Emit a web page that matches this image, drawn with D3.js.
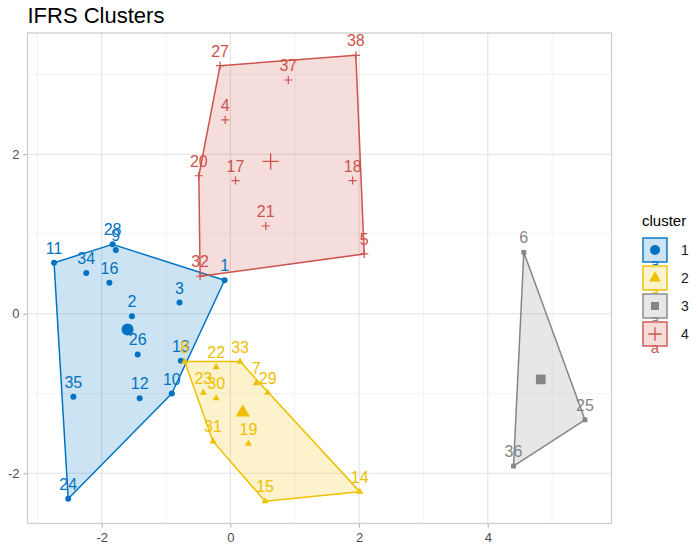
<!DOCTYPE html>
<html>
<head>
<meta charset="utf-8">
<script src="https://cdn.jsdelivr.net/npm/d3@7"></script>
<style>
  html, body { margin: 0; padding: 0; background: #fff; }
  svg { display: block; font-family: "Liberation Sans", Arial, Helvetica, sans-serif; }
</style>
</head>
<body>
<svg id="chart" width="698" height="548"></svg>
<script>
// Observation ids with their coordinates on the first two dimensions
const pointIds = [1,2,3,4,5,6,7,8,9,10,11,12,13,14,15,16,17,18,19,20,21,22,23,24,25,26,27,28,29,30,31,32,33,34,35,36,37,38];
const dim1 = [-0.09,-1.53,-0.79,-0.08,2.08,4.56,0.40,-0.71,-1.78,-0.91,-2.74,-1.41,-0.77,2.01,0.54,-1.88,0.08,1.90,0.28,-0.49,0.55,-0.22,-0.42,-2.52,5.51,-1.44,-0.16,-1.83,0.58,-0.22,-0.27,-0.47,0.15,-2.24,-2.44,4.40,0.90,1.95];
const dim2 = [0.42,-0.03,0.14,2.43,0.75,0.77,-0.87,-0.60,0.80,-1.00,0.64,-1.06,-0.59,-2.23,-2.35,0.39,1.67,1.67,-1.63,1.73,1.10,-0.67,-0.99,-2.32,-1.33,-0.51,3.11,0.87,-0.99,-1.06,-1.60,0.47,-0.60,0.51,-1.04,-1.91,2.93,3.24];
const clusterOf = [1,1,1,4,4,3,2,2,1,1,1,1,1,2,2,1,4,4,2,4,4,2,2,1,3,1,4,1,2,2,2,4,2,1,1,3,4,4];

const clusterNames = ["1","2","3","4"];
const clusterColors = ["#0073C2","#EFC000","#868686","#CD534C"];
const clusterShapes = ["circle","triangle","square","plus"];

const xTicks = [-2,0,2,4];
const yTicks = [-2,0,2];
const xMinor = [-3,-1,1,3,5];
const yMinor = [-1,1,3];

const titleText = "IFRS Clusters";
const legendTitle = "cluster";

const points = pointIds.map((id, i) => ({ id, x: dim1[i], y: dim2[i], c: clusterOf[i] }));

const svg = d3.select("#chart");
const panel = { left: 27.5, right: 611.5, top: 33, bottom: 523.5 };

// Scales with 5% padding around the data range
const xExt = d3.extent(dim1), yExt = d3.extent(dim2);
const xPad = (xExt[1] - xExt[0]) * 0.05, yPad = (yExt[1] - yExt[0]) * 0.05;
const x = d3.scaleLinear().domain([xExt[0] - xPad, xExt[1] + xPad]).range([panel.left, panel.right]);
const y = d3.scaleLinear().domain([yExt[0] - yPad, yExt[1] + yPad]).range([panel.bottom, panel.top]);

// Title
svg.append("text").attr("x", panel.left).attr("y", 23)
  .attr("font-size", 22).attr("fill", "#000").text(titleText);

// Panel background and grid
const g = svg.append("g");
g.append("rect").attr("x", panel.left).attr("y", panel.top)
  .attr("width", panel.right - panel.left).attr("height", panel.bottom - panel.top)
  .attr("fill", "#fff");

g.selectAll(".xminor").data(xMinor).join("line")
  .attr("x1", d => x(d)).attr("x2", d => x(d)).attr("y1", panel.top).attr("y2", panel.bottom)
  .attr("stroke", "#F0F0F0").attr("stroke-width", 0.8);
g.selectAll(".yminor").data(yMinor).join("line")
  .attr("y1", d => y(d)).attr("y2", d => y(d)).attr("x1", panel.left).attr("x2", panel.right)
  .attr("stroke", "#F0F0F0").attr("stroke-width", 0.8);
g.selectAll(".xmajor").data(xTicks).join("line")
  .attr("x1", d => x(d)).attr("x2", d => x(d)).attr("y1", panel.top).attr("y2", panel.bottom)
  .attr("stroke", "#E3E3E3").attr("stroke-width", 1.1);
g.selectAll(".ymajor").data(yTicks).join("line")
  .attr("y1", d => y(d)).attr("y2", d => y(d)).attr("x1", panel.left).attr("x2", panel.right)
  .attr("stroke", "#E3E3E3").attr("stroke-width", 1.1);

// Axes
const xAxis = svg.append("g").attr("transform", `translate(0,${panel.bottom})`)
  .call(d3.axisBottom(x).tickValues(xTicks).tickFormat(d3.format("d")).tickSize(4).tickPadding(5));
const yAxis = svg.append("g").attr("transform", `translate(${panel.left},0)`)
  .call(d3.axisLeft(y).tickValues(yTicks).tickFormat(d3.format("d")).tickSize(4).tickPadding(4));
[xAxis, yAxis].forEach(a => {
  a.select(".domain").remove();
  a.selectAll(".tick line").attr("stroke", "#B3B3B3").attr("stroke-width", 1.1);
  a.selectAll(".tick text").attr("fill", "#4D4D4D").attr("font-size", 13)
    .attr("font-family", "Liberation Sans, Arial, sans-serif").text(d => d < 0 ? "-" + Math.abs(d) : d);
});

// Symbols
function symbolPath(shape, size) {
  if (shape === "circle") return d3.symbol(d3.symbolCircle, Math.PI * size * size)();
  if (shape === "triangle") return d3.symbol(d3.symbolTriangle, size * size * 2.4)();
  if (shape === "square") return d3.symbol(d3.symbolSquare, size * size * 2.6)();
  const h = size * 1.35;
  return `M${-h},0H${h}M0,${-h}V${h}`;
}
function drawSymbol(sel, shape, color, size) {
  const p = sel.append("path").attr("d", symbolPath(shape, size));
  if (shape === "plus") p.attr("fill", "none").attr("stroke", color).attr("stroke-width", 1.2);
  else p.attr("fill", color);
  return p;
}

// Convex hulls per cluster
const plot = svg.append("g");
clusterNames.forEach((name, k) => {
  const pts = points.filter(p => p.c === k + 1).map(p => [x(p.x), y(p.y)]);
  const hull = d3.polygonHull(pts);
  plot.append("path")
    .attr("d", "M" + hull.join("L") + "Z")
    .attr("fill", clusterColors[k]).attr("fill-opacity", 0.2)
    .attr("stroke", clusterColors[k]).attr("stroke-width", 1.5).attr("stroke-linejoin", "round");
});

// Observation points
clusterNames.forEach((name, k) => {
  points.filter(p => p.c === k + 1).forEach(p => {
    const s = plot.append("g").attr("transform", `translate(${x(p.x)},${y(p.y)})`);
    drawSymbol(s, clusterShapes[k], clusterColors[k], 3);
  });
});

// Observation labels
clusterNames.forEach((name, k) => {
  plot.selectAll(null).data(points.filter(p => p.c === k + 1)).join("text")
    .attr("x", d => x(d.x)).attr("y", d => y(d.y) - 9)
    .attr("text-anchor", "middle").attr("font-size", 16)
    .attr("fill", clusterColors[k]).text(d => d.id);
});

// Cluster centres
clusterNames.forEach((name, k) => {
  const members = points.filter(p => p.c === k + 1);
  const cx = d3.mean(members, p => p.x), cy = d3.mean(members, p => p.y);
  const s = plot.append("g").attr("transform", `translate(${x(cx)},${y(cy)})`);
  const p = drawSymbol(s, clusterShapes[k], clusterColors[k], 6);
  if (clusterShapes[k] === "plus") p.attr("stroke-width", 1.3);
});

// Panel border
svg.append("rect").attr("x", panel.left).attr("y", panel.top)
  .attr("width", panel.right - panel.left).attr("height", panel.bottom - panel.top)
  .attr("fill", "none").attr("stroke", "#CFCFCF").attr("stroke-width", 1.3);

// Legend
const legend = svg.append("g").attr("transform", "translate(642,0)");
legend.append("text").attr("x", 0).attr("y", 226).attr("font-size", 15).attr("fill", "#000").text(legendTitle);
const keySize = 26, keyTop = 237, keyStep = 28;
clusterNames.forEach((name, k) => {
  const ky = keyTop + k * keyStep;
  const key = legend.append("g").attr("transform", `translate(0,${ky})`);
  key.append("rect").attr("x", 0).attr("y", 0).attr("width", keySize).attr("height", keySize).attr("fill", "#fff");
  key.append("rect").attr("x", 1).attr("y", 1).attr("width", keySize - 2).attr("height", keySize - 2)
    .attr("fill", clusterColors[k]).attr("fill-opacity", 0.2)
    .attr("stroke", clusterColors[k]).attr("stroke-width", 1.4);
  const s = key.append("g").attr("transform", `translate(${keySize / 2},${keySize / 2})`);
  const sym = drawSymbol(s, clusterShapes[k], clusterColors[k], 5);
  if (clusterShapes[k] === "plus") sym.attr("stroke-width", 1.3);
  key.append("text").attr("x", keySize / 2).attr("y", keySize + 6).attr("text-anchor", "middle")
    .attr("font-size", 15).attr("fill", clusterColors[k]).text("a");
  legend.append("text").attr("x", 39).attr("y", ky + keySize / 2 + 5)
    .attr("font-size", 14).attr("fill", "#1A1A1A").text(name);
});
</script>
</body>
</html>
